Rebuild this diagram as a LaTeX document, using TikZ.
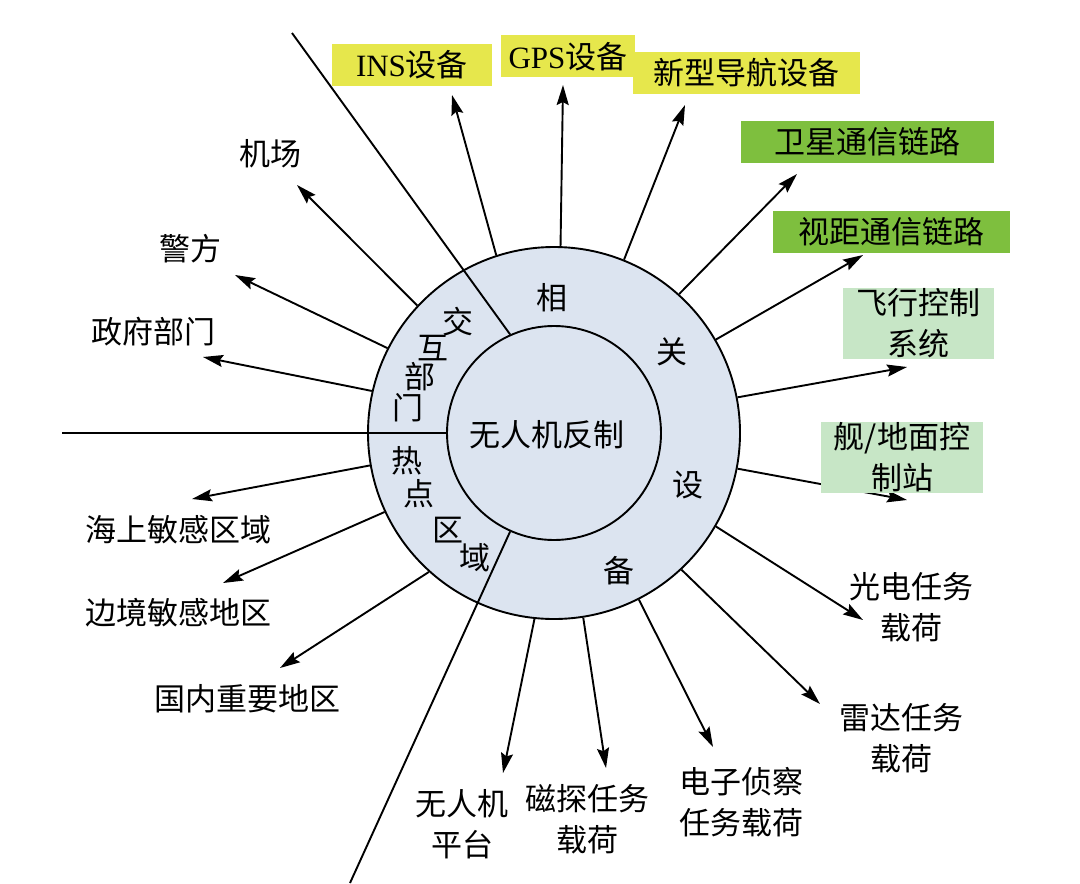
\documentclass[tikz,border=0pt]{standalone}
\usepackage{fontspec}
\setmainfont{Liberation Serif}
\newfontfamily\cjk{Noto Sans CJK SC}
\usepackage{tikz}
\usetikzlibrary{calc,math,arrows.meta}
\definecolor{ringfill}{RGB}{220,228,240}
\definecolor{navyellow}{RGB}{230,231,76}
\definecolor{linkgreen}{RGB}{126,191,62}
\definecolor{ctrlgreen}{RGB}{199,230,198}

\begin{document}
\begin{tikzpicture}
[x=0.5pt,y=-0.5pt,line width=0.95pt,>={Stealth[length=10pt,width=6pt,inset=1.5pt]},
txt/.style={font=\cjk\fontsize{15.5}{20.5}\selectfont,inner sep=0pt,align=center},
navbox/.style={txt,fill=navyellow,minimum height=21pt},
linkbox/.style={txt,fill=linkgreen,minimum height=21pt},
ctrlbox/.style={txt,fill=ctrlgreen,minimum height=35.5pt},]

\useasboundingbox (0,0) rectangle (1080,883);

%Outer ring and inner core, diameters in pt
\tikzmath{\Ro = 186; \Ri = 107;}
\node (ring) at (554,433)[circle,draw,fill=ringfill,minimum size=\Ro pt,inner sep=0pt] {};
\node (core) at (554,433)[circle,draw,fill=ringfill,minimum size=\Ri pt,inner sep=0pt] {};

%Cuts through the ring
\coordinate (topcut) at (292,33);
\coordinate (leftcut) at (62,433);
\coordinate (botcut) at (350,883);
\draw (topcut) -- (core.114);
\draw (leftcut) -- (core.west);
\draw (botcut) -- (core.246);

%Arrow tips
\coordinate (tINS) at (452,95);
\coordinate (tGPS) at (563,85);
\coordinate (tNewNav) at (685,105);
\coordinate (tSat) at (797,174);
\coordinate (tLos) at (863,255);
\coordinate (tFlight) at (907,367);
\coordinate (tStation) at (907,500);
\coordinate (tEO) at (863,620);
\coordinate (tRadar) at (820,704);
\coordinate (tElint) at (713,747);
\coordinate (tMag) at (606,768);
\coordinate (tUav) at (503,773);
\coordinate (tHome) at (280,668);
\coordinate (tBorder) at (223,583);
\coordinate (tSea) at (192,499);
\coordinate (tGov) at (203,357);
\coordinate (tPolice) at (235,275);
\coordinate (tAirport) at (297,185);

%Arrows out of the ring
\draw[->] (ring.108) -- (tINS);
\draw[->] (ring.88) -- (tGPS);
\draw[->] (ring.68) -- (tNewNav);
\draw[->] (ring.48) -- (tSat);
\draw[->] (ring.30) -- (tLos);
\draw[->] (ring.11) -- (tFlight);
\draw[->] (ring.349) -- (tStation);
\draw[->] (ring.330) -- (tEO);
\draw[->] (ring.313) -- (tRadar);
\draw[->] (ring.297) -- (tElint);
\draw[->] (ring.279) -- (tMag);
\draw[->] (ring.264) -- (tUav);
\draw[->] (ring.228) -- (tHome);
\draw[->] (ring.205) -- (tBorder);
\draw[->] (ring.190) -- (tSea);
\draw[->] (ring.167) -- (tGov);
\draw[->] (ring.153) -- (tPolice);
\draw[->] (ring.137) -- (tAirport);

%Centre and ring words
\node (title) at (547,435)[txt] {无人机反制};
\node (xg1) at (552,298)[txt] {相};
\node (xg2) at (672,352)[txt] {关};
\node (xg3) at (688,485)[txt] {设};
\node (xg4) at (619,571)[txt] {备};
\node (jh1) at (458,322)[txt] {交};
\node (jh2) at (433,348)[txt] {互};
\node (jh3) at (420,377)[txt] {部};
\node (jh4) at (408,408)[txt] {门};
\node (rd1) at (407,461)[txt] {热};
\node (rd2) at (419,494)[txt] {点};
\node (rd3) at (448,530)[txt] {区};
\node (rd4) at (475,558)[txt] {域};

%Equipment boxes
\node (nINS) at (412,65)[navbox,minimum width=80pt] {{\rmfamily INS}设备};
\node (nGPS) at (568,56.5)[navbox,minimum width=67pt] {{\rmfamily GPS}设备};
\node (nNewNav) at (746.5,73)[navbox,minimum width=113.5pt] {新型导航设备};
\node (nSat) at (867.5,142)[linkbox,minimum width=126.5pt] {卫星通信链路};
\node (nLos) at (891.5,232)[linkbox,minimum width=118.5pt] {视距通信链路};
\node (nFlight) at (918.5,323.5)[ctrlbox,minimum width=75.5pt] {飞行控制\\系统};
\node (nStation) at (902,457.5)[ctrlbox,minimum width=81pt] {舰/地面控\\制站};

%Payloads and platform
\node (nEO) at (911,607.5)[txt] {光电任务\\载荷};
\node (nRadar) at (901,738)[txt] {雷达任务\\载荷};
\node (nElint) at (741,802.5)[txt] {电子侦察\\任务载荷};
\node (nMag) at (587,819.5)[txt] {磁探任务\\载荷};
\node (nUav) at (462,824)[txt] {无人机\\平台};

%Hot areas and agencies
\node (nHome) at (247,699)[txt] {国内重要地区};
\node (nBorder) at (178,613)[txt] {边境敏感地区};
\node (nSea) at (178,530)[txt] {海上敏感区域};
\node (nGov) at (153,332)[txt] {政府部门};
\node (nPolice) at (190,249)[txt] {警方};
\node (nAirport) at (270,154)[txt] {机场};

\end{tikzpicture}
\end{document}
